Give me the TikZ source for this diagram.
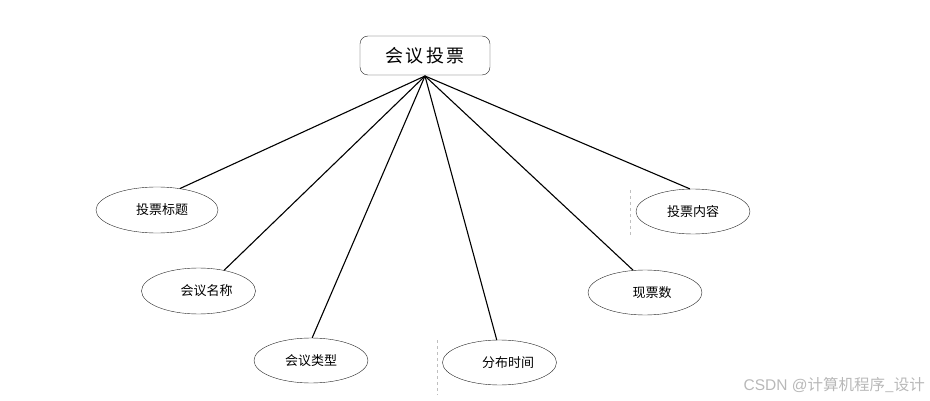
\documentclass[tikz,border=0pt]{standalone}
\usepackage{fontspec}
\newfontfamily\cjk{Noto Sans CJK SC}
\newfontfamily\wmlatin{Liberation Sans}
\usetikzlibrary{shapes.geometric}
\begin{document}
\begin{tikzpicture}[x=1pt,y=-1pt,
  topbox/.style={draw=black!85,rounded corners=8pt,minimum width=130pt,minimum height=39pt,inner sep=0pt,font=\cjk\fontsize{18}{18}\selectfont,fill=white},
  attr/.style={draw=black!85,ellipse,minimum width=114pt,minimum height=45pt,inner sep=0pt,font=\cjk\fontsize{13}{13}\selectfont,fill=white},
  link/.style={draw=black,line width=1.1pt},
  faint/.style={draw=black!25,dashed,line width=0.5pt}]
\useasboundingbox (0,0) rectangle (930,401);
\draw[faint] (437,340) -- (437,395);
\draw[faint] (630,190) -- (630,236);
\node[topbox] (top) at (425,55.5) {会\hspace{2.5pt}议\hspace{2.5pt}投\hspace{2.5pt}票};
\coordinate (hub) at (425,76);
\node[attr,minimum width=122pt,minimum height=46pt] (a1) at (157,210) {\hspace{10pt}投票标题};
\node[attr,minimum height=46pt] (a2) at (198.5,291) {\hspace{16pt}会议名称};
\node[attr] (a3) at (311,360.5) {会议类型};
\node[attr] (a4) at (499.5,362.5) {\hspace{17pt}分布时间};
\node[attr] (a5) at (645,292.5) {\hspace{14pt}现票数};
\node[attr] (a6) at (693,211.5) {投票内容};
\foreach \n/\ang in {a1/43,a2/39,a3/87,a4/97,a5/118,a6/98}
  \draw[link] (hub) -- (\n.\ang);
\node[font=\fontsize{15.5}{15.5}\selectfont,text=black!28,anchor=east,inner sep=0pt] (wm) at (925,385) {\wmlatin CSDN @{\cjk 计算机程序\_设计}};
\end{tikzpicture}
\end{document}
